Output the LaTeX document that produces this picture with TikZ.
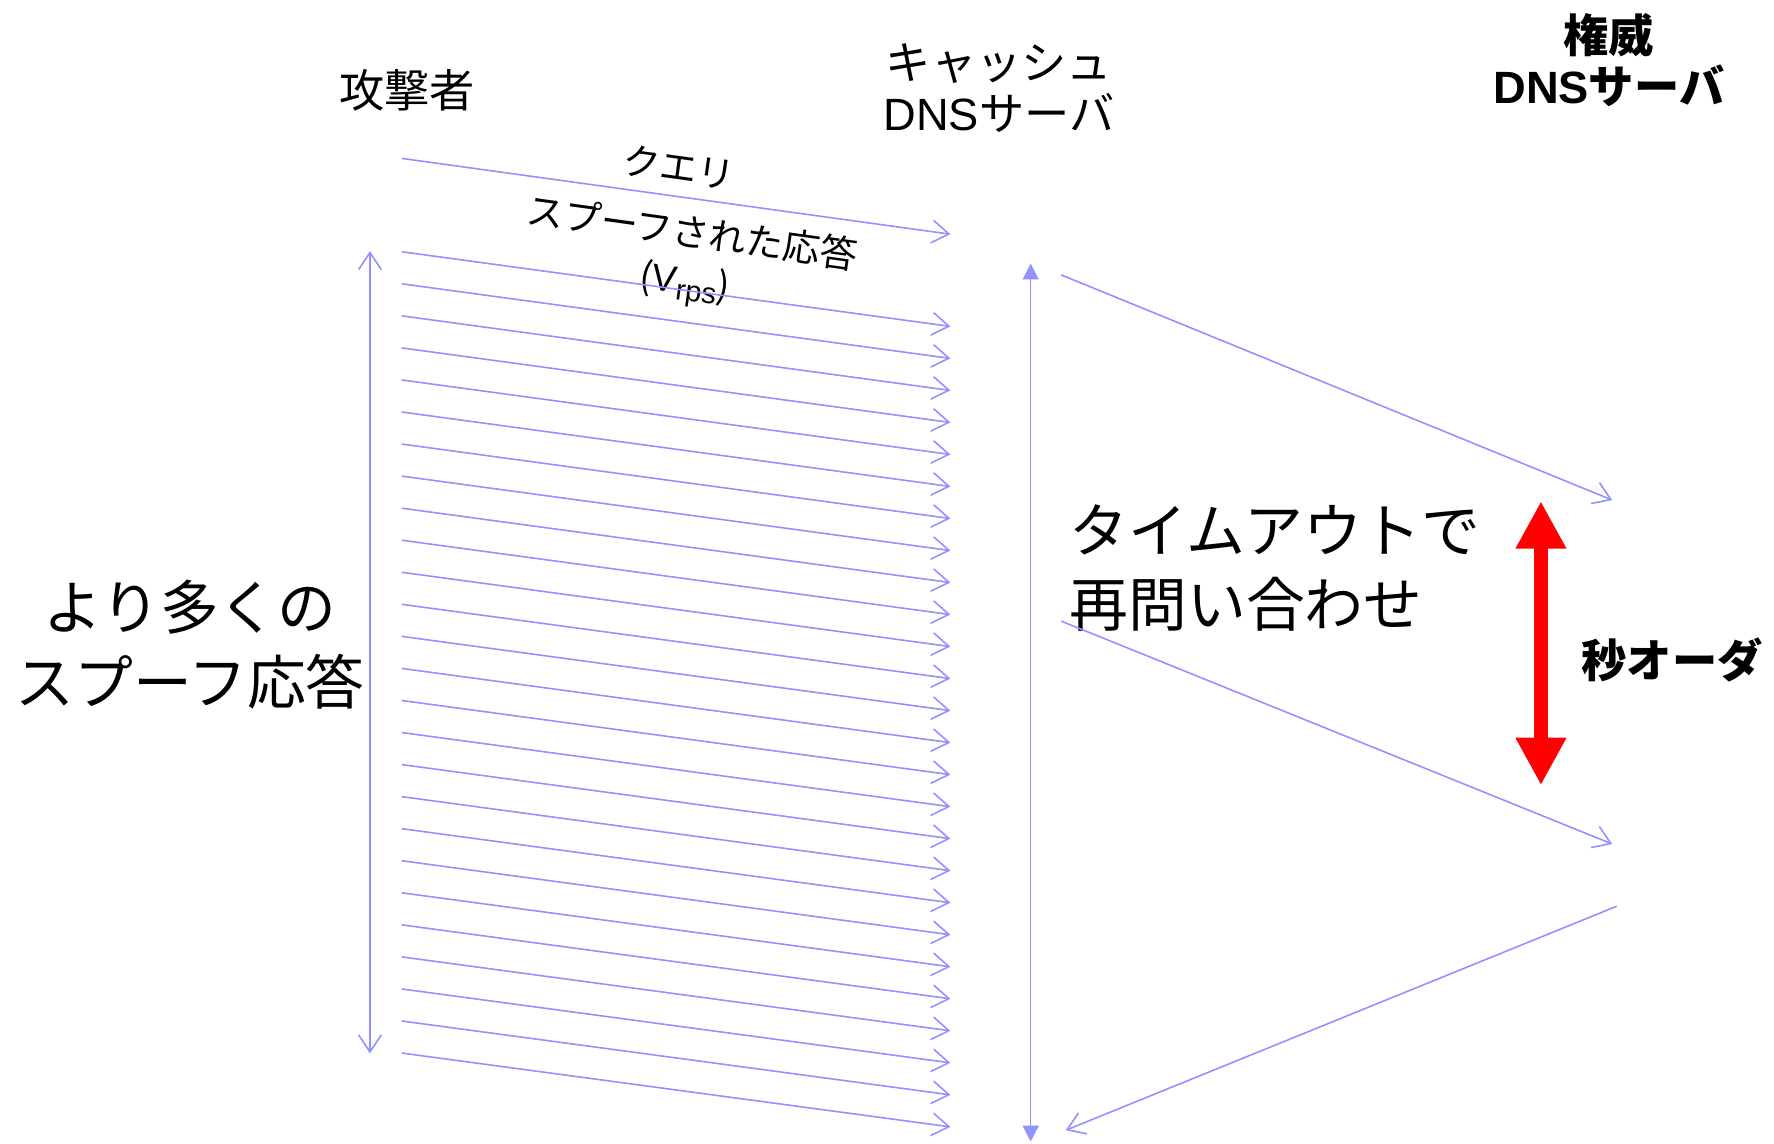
\documentclass[tikz,border=0pt]{standalone}
\usepackage{fontspec}
\setmainfont{Noto Sans CJK JP}
\newfontfamily\lat{Liberation Sans}
\newfontfamily\latb{Liberation Sans Bold}
\usetikzlibrary{arrows.meta}
\definecolor{peri}{RGB}{145,145,255}
\tikzset{
  ln/.style={draw=peri, line width=0.7pt},
  openarr/.style={ln, -{Straight Barb[length=7.5pt,width=10pt]}},
  lbl/.style={inner sep=0pt, align=center, font=\fontsize{20pt}{22.5pt}\selectfont},
  lblb/.style={lbl, font=\fontsize{20pt}{22.5pt}\selectfont\bfseries},
  big/.style={inner sep=0pt, font=\fontsize{26pt}{33pt}\selectfont},
  mid/.style={inner sep=0pt, rotate=-7.9, font=\fontsize{16.5pt}{20pt}\selectfont}
}
\begin{document}
\begin{tikzpicture}[x=0.5pt,y=-0.5pt]
\useasboundingbox (0,0) rectangle (1568,1011);
% headers
\node[lbl] (att) at (360,80) {攻撃者};
\node[lbl] (cache) at (883,78) {キャッシュ\\{\lat DNS}サーバ};
\node[lblb] (auth) at (1422,53) {権威\\{\latb DNS}サーバ};
% labels on arrows
\node[mid] (query) at (600,148) {クエリ};
\node[mid] (spoof) at (612,205) {スプーフされた応答};
\node[mid] (vrps) at (605,252) {({\lat V\raisebox{-0.3ex}{\fontsize{13pt}{13pt}\selectfont rps}})};
% big labels
\node[big, align=center] (more) at (168,570) {より多くの\\スプーフ応答};
\node[big, align=left, anchor=west] (timeout) at (945,502) {タイムアウトで\\再問い合わせ};
\node[lblb] (order) at (1478,583) {秒オーダ};
% query arrow
\coordinate (q1) at (355,140);
\coordinate (q2) at (840,207);
\draw[openarr] (q1) -- (q2);
% spoofed responses
\foreach \i in {0,...,25}{
  \coordinate (s\i) at (355,{222.5+28.33*\i});
  \coordinate (e\i) at (840,{288.5+28.3*\i});
  \draw[openarr] (s\i) -- (e\i);
}
% left vertical
\coordinate (lt) at (327,222);
\coordinate (lb) at (327,931);
\draw[ln, {Straight Barb[length=7.5pt,width=10pt]}-{Straight Barb[length=7.5pt,width=10pt]}] (lt) -- (lb);
% middle vertical
\coordinate (mt) at (911,233);
\coordinate (mb) at (911,1009);
\draw[ln, {Triangle[length=7pt,width=7pt]}-{Triangle[length=7pt,width=7pt]}, fill=peri] (mt) -- (mb);
% diagonals to authority
\coordinate (r1s) at (938,243);
\coordinate (r1e) at (1425,442);
\draw[openarr] (r1s) -- (r1e);
\coordinate (r2s) at (938,549);
\coordinate (r2e) at (1425,746);
\draw[openarr] (r2s) -- (r2e);
\coordinate (r3s) at (1429,801);
\coordinate (r3e) at (942,999);
\draw[openarr] (r3s) -- (r3e);
% red arrow
\coordinate (rt) at (1362,443);
\coordinate (rb) at (1362,694);
\draw[red, line width=6.5pt, {Triangle[length=21pt,width=21pt]}-{Triangle[length=21pt,width=21pt]}] (rt) -- (rb);
\end{tikzpicture}
\end{document}
